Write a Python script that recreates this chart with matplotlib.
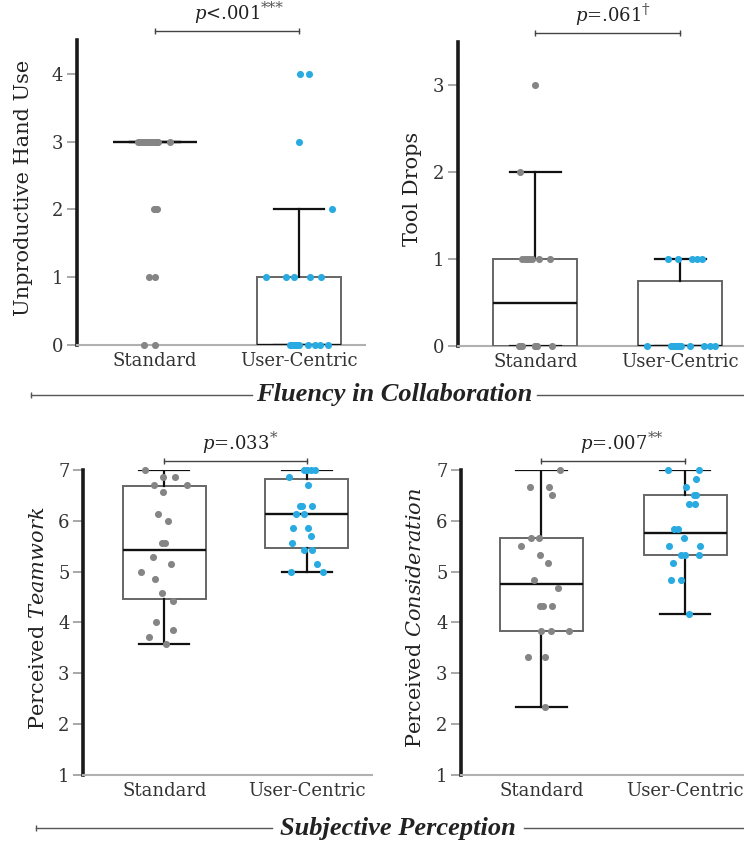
import matplotlib
matplotlib.use("Agg")
import matplotlib.pyplot as plt
from matplotlib.lines import Line2D
import numpy as np

plt.rcParams['font.family'] = 'DejaVu Serif'
plt.rcParams['mathtext.fontset'] = 'dejavuserif'

groups = ["Standard", "User-Centric"]

# --- Unproductive hand use ---
hand_std = [3, 3, 3, 3, 3, 3, 3, 3, 3, 3, 3, 3, 3, 2, 2, 2, 1, 1, 0, 0]
hand_uc = [4, 4, 3, 2, 1, 1, 1, 1, 1, 0, 0, 0, 0, 0, 0, 0, 0, 0, 0, 0]
hand_std_jit = [-0.117, -0.103, -0.089, -0.075, -0.062, -0.048, -0.034, -0.021, -0.007,
                0.007, 0.014, 0.021, 0.107, -0.009, 0.005, 0.015, -0.044, 0.003, -0.076, 0.003]
hand_uc_jit = [0.005, 0.067, 0.0, 0.229, -0.233, -0.092, -0.032, 0.074, 0.155,
               -0.065, -0.054, -0.044, -0.033, -0.023, -0.013, 0.001, 0.063, 0.109, 0.144, 0.201]

# --- Tool drops ---
drops_std = [3, 2, 1, 1, 1, 1, 1, 1, 1, 0, 0, 0, 0, 0, 0, 0, 0, 0]
drops_uc = [1, 1, 1, 1, 1, 0, 0, 0, 0, 0, 0, 0, 0, 0, 0, 0, 0, 0, 0, 0]
drops_std_jit = [0.0, -0.108, -0.09, -0.074, -0.057, -0.041, -0.024, 0.028, 0.101,
                 -0.109, -0.103, -0.099, -0.093, -0.003, 0.001, 0.006, 0.01, 0.115]
drops_uc_jit = [-0.084, -0.014, 0.078, 0.114, 0.149, -0.228, -0.066, -0.057, -0.049, -0.041,
                -0.032, -0.024, -0.016, -0.008, 0.001, 0.008, 0.067, 0.163, 0.205, 0.239]

# --- Perceived teamwork ---
team_std = [7.0, 6.86, 6.86, 6.71, 6.71, 6.57, 6.14, 6.0, 5.57, 5.57,
            5.29, 5.14, 5.0, 4.86, 4.57, 4.43, 4.0, 3.86, 3.71, 3.57]
team_uc = [7.0, 7.0, 7.0, 7.0, 6.86, 6.71, 6.29, 6.29, 6.29, 6.14,
           6.14, 5.86, 5.86, 5.71, 5.57, 5.43, 5.43, 5.14, 5.0, 5.0]
team_std_jit = [-0.135, -0.007, 0.075, -0.072, 0.16, -0.011, -0.042, 0.028, -0.018, 0.005,
                -0.077, 0.047, -0.166, -0.065, -0.014, 0.059, -0.058, 0.063, -0.105, 0.012]
team_uc_jit = [-0.022, 0.002, 0.03, 0.058, -0.124, 0.011, -0.047, -0.033, 0.035, -0.077,
               -0.017, -0.094, 0.011, 0.03, -0.101, -0.019, 0.039, 0.07, -0.112, 0.112]

# --- Perceived consideration ---
cons_std = [7.0, 6.67, 6.67, 6.5, 5.67, 5.67, 5.5, 5.33, 5.17, 4.83,
            4.67, 4.33, 4.33, 4.33, 3.83, 3.83, 3.83, 3.33, 3.33, 2.33]
cons_uc = [7.0, 7.0, 6.83, 6.67, 6.5, 6.5, 6.33, 6.33, 5.83, 5.83,
           5.67, 5.5, 5.5, 5.33, 5.33, 5.33, 5.17, 4.83, 4.83, 4.17]
cons_std_jit = [0.132, -0.076, 0.056, 0.076, -0.069, -0.014, -0.139, -0.007, 0.047, -0.049,
                0.116, -0.007, 0.01, 0.076, 0.0, 0.069, 0.194, -0.094, 0.028, 0.023]
cons_uc_jit = [-0.121, 0.097, 0.074, 0.005, 0.058, 0.074, 0.024, 0.065, -0.08, -0.05,
               -0.007, -0.111, 0.1, -0.028, 0.0, 0.097, -0.088, -0.097, -0.028, 0.028]

# box summaries: q1, median, q3, lower whisker, upper whisker
hand_box = [[3, 3, 3, 3, 3], [0, 0, 1, 0, 2]]
drops_box = [[0, 0.5, 1, 0, 2], [0, 0, 0.75, 0, 1]]
team_box = [[4.46, 5.43, 6.68, 3.57, 7.0], [5.46, 6.14, 6.82, 5.0, 7.0]]
cons_box = [[3.83, 4.75, 5.67, 2.33, 7.0], [5.33, 5.75, 6.5, 4.17, 7.0]]

p_texts = [r"$\mathit{p}$<.001", r"$\mathit{p}$=.061", r"$\mathit{p}$=.033", r"$\mathit{p}$=.007"]
p_marks = ["***", "†", "*", "**"]
y_labels = ["Unproductive Hand Use", "Tool Drops",
            r"Perceived $\mathit{Teamwork}$", r"Perceived $\mathit{Consideration}$"]

GRAY = "#858585"
BLUE = "#29abe2"

fig = plt.figure(figsize=(7.44, 8.44), dpi=100)

panels = [
    dict(rect=[0.1035, 0.5912, 0.3871, 0.3614], xlim=(-0.542, 1.458), ylim=(0, 4.5), labx=-0.152,
         yticks=[0, 1, 2, 3, 4], vals=(hand_std, hand_uc), jit=(hand_std_jit, hand_uc_jit), box=hand_box),
    dict(rect=[0.6156, 0.5900, 0.3844, 0.3605], xlim=(-0.533, 1.439), ylim=(0, 3.5), labx=-0.126,
         yticks=[0, 1, 2, 3], vals=(drops_std, drops_uc), jit=(drops_std_jit, drops_uc_jit), box=drops_box),
    dict(rect=[0.112, 0.0818, 0.388, 0.3614], xlim=(-0.569, 1.459), ylim=(1, 7), labx=-0.122,
         yticks=[1, 2, 3, 4, 5, 6, 7], vals=(team_std, team_uc), jit=(team_std_jit, team_uc_jit), box=team_box),
    dict(rect=[0.62, 0.0818, 0.38, 0.3614], xlim=(-0.556, 1.408), ylim=(1, 7), labx=-0.128,
         yticks=[1, 2, 3, 4, 5, 6, 7], vals=(cons_std, cons_uc), jit=(cons_std_jit, cons_uc_jit), box=cons_box),
]

for i, p in enumerate(panels):
    ax = fig.add_axes(p['rect'])
    stats = []
    for b in p['box']:
        stats.append(dict(q1=b[0], med=b[1], q3=b[2], whislo=b[3], whishi=b[4], fliers=[]))
    ax.bxp(stats, positions=[0, 1], widths=0.58, capwidths=0.35, patch_artist=True,
           showfliers=False, manage_ticks=False,
           boxprops=dict(facecolor='white', edgecolor='#666666', linewidth=1.4),
           medianprops=dict(color='#111111', linewidth=1.7),
           whiskerprops=dict(color='#111111', linewidth=1.6),
           capprops=dict(color='#111111', linewidth=1.6),
           zorder=3)
    for k, color in enumerate([GRAY, BLUE]):
        xs = k + np.array(p['jit'][k])
        ax.scatter(xs, p['vals'][k], s=26, color=color, zorder=4, clip_on=False, linewidths=0)

    ax.set_xlim(*p['xlim'])
    ax.set_ylim(*p['ylim'])
    ax.set_yticks(p['yticks'])
    ax.set_xticks([0, 1])
    ax.set_xticklabels(groups, fontsize=13, color='#333333')
    ax.tick_params(axis='x', length=0, pad=5)
    ax.tick_params(axis='y', length=7, width=1.2, color='#999999', labelsize=13,
                   labelcolor='#333333', pad=3)
    for side in ['top', 'right']:
        ax.spines[side].set_visible(False)
    ax.spines['left'].set_linewidth(2.6)
    ax.spines['left'].set_color('#1a1a1a')
    ax.spines['bottom'].set_linewidth(1.5)
    ax.spines['bottom'].set_color('#b0b0b0')

    ax.set_ylabel(y_labels[i], fontsize=15, color='#222222')
    ax.yaxis.set_label_coords(p['labx'], 0.515)

    # significance bracket
    tr = ax.get_xaxis_transform()
    ax.plot([0, 1], [1.028, 1.028], transform=tr, color='#444444', lw=1.0,
            marker='|', markersize=5, markeredgewidth=1.0, clip_on=False)
    t = ax.text(0.5, 1.085, p_texts[i], transform=tr, ha='center', va='center',
                fontsize=13, color='#222222')
    ax.annotate(p_marks[i], xy=(1.0, 1.0), xycoords=t, xytext=(0.5, 1.5), textcoords='offset points',
                ha='left', va='top', fontsize=11, color='#555555')

# section headings with rules
for label, ty, x0, x1, x2 in [("Fluency in Collaboration", 395, 31, 252, 537),
                               ("Subjective Perception", 828, 36, 272, 524)]:
    yf = 1 - ty / 844
    fig.add_artist(Line2D([x0 / 744, x1 / 744], [yf, yf], color='#555555', lw=1.0,
                          marker='|', markevery=[0], markersize=5))
    fig.add_artist(Line2D([x2 / 744, 1.0], [yf, yf], color='#555555', lw=1.0))
    fig.text((x1 + x2) / 2 / 744, yf, label, ha='center', va='center', fontsize=19,
             family='Liberation Serif', style='italic', weight='bold', color='#222222')

fig.savefig("out.png", dpi=100)
